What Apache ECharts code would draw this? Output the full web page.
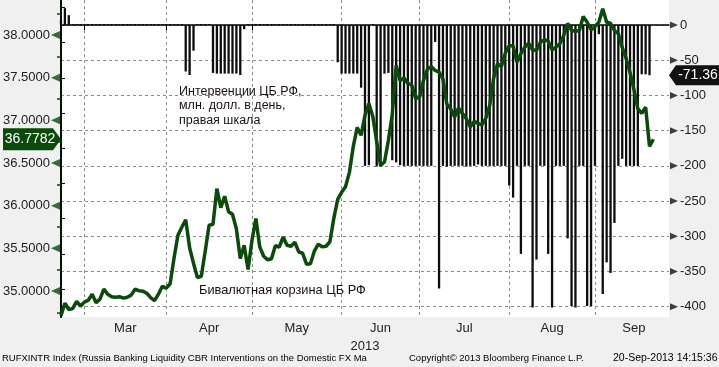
<!DOCTYPE html>
<html><head><meta charset="utf-8">
<script src="https://cdn.jsdelivr.net/npm/echarts@6/dist/echarts.min.js"></script>
<style>html,body{margin:0;padding:0;background:#f0f0f0;}#c{width:719px;height:367px;}</style>
</head><body><div id="c"></div>
<script>
// Business days (MM-DD, 2013)
const categories = [
'02-21','02-22','02-25','02-26','02-27','02-28',
'03-01','03-04','03-05','03-06','03-07','03-08','03-11','03-12','03-13','03-14','03-15','03-18','03-19','03-20','03-21','03-22','03-25','03-26','03-27','03-28','03-29',
'04-01','04-02','04-03','04-04','04-05','04-08','04-09','04-10','04-11','04-12','04-15','04-16','04-17','04-18','04-19','04-22','04-23','04-24','04-25','04-26','04-29','04-30',
'05-01','05-02','05-03','05-06','05-07','05-08','05-09','05-10','05-13','05-14','05-15','05-16','05-17','05-20','05-21','05-22','05-23','05-24','05-27','05-28','05-29','05-30','05-31',
'06-03','06-04','06-05','06-06','06-07','06-10','06-11','06-12','06-13','06-14','06-17','06-18','06-19','06-20','06-21','06-24','06-25','06-26','06-27','06-28',
'07-01','07-02','07-03','07-04','07-05','07-08','07-09','07-10','07-11','07-12','07-15','07-16','07-17','07-18','07-19','07-22','07-23','07-24','07-25','07-26','07-29','07-30','07-31',
'08-01','08-02','08-05','08-06','08-07','08-08','08-09','08-12','08-13','08-14','08-15','08-16','08-19','08-20','08-21','08-22','08-23','08-26','08-27','08-28','08-29','08-30',
'09-02','09-03','09-04','09-05','09-06','09-09','09-10','09-11','09-12','09-13','09-16','09-17','09-18','09-19','09-20','09-23','09-24','09-25','09-26','09-27'
];

// Bi-currency basket (left axis)
const basket = [
34.711,34.857,34.783,34.793,34.880,34.822,34.869,34.892,34.962,34.863,
34.904,35.021,34.962,34.933,34.927,34.933,34.916,34.927,34.951,35.021,
35.003,34.998,34.974,34.921,34.886,34.962,35.056,35.033,35.085,35.384,
35.653,35.747,35.834,35.507,35.325,35.158,35.173,35.466,35.770,35.782,
36.200,35.977,36.110,35.928,35.899,35.729,35.380,35.536,35.252,35.595,
35.849,35.516,35.407,35.366,35.378,35.530,35.513,35.633,35.536,35.524,
35.571,35.458,35.442,35.314,35.319,35.466,35.548,35.519,35.524,35.577,
35.852,36.074,36.156,36.221,36.390,36.695,36.917,36.824,37.058,37.198,
37.046,36.753,36.472,36.511,36.765,37.069,37.643,37.467,37.497,37.432,
37.415,37.253,37.272,37.467,37.596,37.631,37.584,37.565,37.485,37.192,
37.134,37.038,37.146,37.078,37.019,36.923,36.987,36.964,36.946,37.023,
37.175,37.491,37.663,37.631,37.789,37.877,37.871,37.682,37.780,37.857,
37.904,37.827,37.819,37.916,37.944,37.927,37.827,37.857,37.897,37.994,
38.135,38.053,38.044,38.053,38.217,38.150,38.061,38.099,38.150,38.307,
38.150,38.138,38.053,38.014,37.854,37.725,37.561,37.362,37.136,37.081,
37.155,36.695,36.7782
];

// CBR interventions, mln USD per day (right axis)
const interventions = [
7,24,14,0,0,0,0,0,0,0,
0,0,0,0,0,0,0,0,0,0,
0,0,0,0,0,0,0,0,0,0,
0,0,-66,-71,-36.5,0,0,0,0,-68,
-69,-69,-69,-69,-69,-69,-71,-6,0,0,
0,0,0,0,0,0,0,0,0,0,
0,0,0,0,0,0,0,0,0,0,
0,-53,-69,-69,-69,-69,-69,-89,-200,-199,
0,-201,-201,-69,-68,-192,-195,-199,-200,-200,
-200,-200,-200,-200,-200,-200,-24,-374,-200,-201,
-200,-200,-200,-200,-201,-200,-200,-198,-200,-200,
-200,-200,-200,-200,-200,-228,-245,-200,-325,-200,
-200,-401,-333,-200,-200,-325,-401,-200,-200,-200,
-303,-399,-401,-200,-200,-399,-399,-200,-13,-382,
-337,-352,-281,-200,-190,-200,-200,-200,-200,-70,
-70,-71.36
];

const leftTicks = [35, 35.5, 36, 36.5, 37, 37.5, 38];
const rightTicks = [0, -50, -100, -150, -200, -250, -300, -350, -400];
const monthNames = {'03':'Mar','04':'Apr','05':'May','06':'Jun','07':'Jul','08':'Aug','09':'Sep'};
const yearLabel = '2013';

const FONT = 'Liberation Sans';
const GREEN = '#0a4a0a';
const last = categories.length - 1;

// month boundaries and mid points
const monthStarts = [];
categories.forEach((c, i) => { if (i > 0 && c.slice(0,2) !== categories[i-1].slice(0,2)) monthStarts.push(i); });
const monthMids = [], midName = {};
monthStarts.forEach((s, k) => {
  const e = k + 1 < monthStarts.length ? monthStarts[k+1] : categories.length;
  const m = (s + e) / 2; monthMids.push(m); midName[m] = monthNames[categories[s].slice(0,2)];
});
const isMonthStart = (i) => monthStarts.indexOf(i) >= 0;
const yearPos = last / 2;

const triRight = 'path://M0,0L10,5L0,10Z';
const triLeft = 'path://M10,0L0,5L10,10Z';
const txt = (size, color) => ({fontSize: size, fontWeight: 'normal', color: color, fontFamily: FONT});
const chart = echarts.init(document.getElementById('c'), null, {renderer: 'canvas'});
chart.setOption({
  animation: false,
  backgroundColor: '#f0f0f0',
  textStyle: {fontFamily: FONT},
  grid: {left: 58, right: 50, top: 0, bottom: 50, show: true, backgroundColor: '#ffffff', borderWidth: 0},
  title: [
    {text: 'Интервенции ЦБ РФ,\nмлн. долл. в день,\nправая шкала', left: 179, top: 84, padding: 0,
     textStyle: Object.assign(txt(12.5, '#1a1010'), {lineHeight: 14.5})},
    {text: 'Бивалютная корзина ЦБ РФ', left: 199, top: 284, padding: 0, textStyle: txt(12.8, '#1a1010')},
    {text: 'RUFXINTR Index (Russia Banking Liquidity CBR Interventions on the Domestic FX Ma', left: 2, top: 353, padding: 0, textStyle: txt(9.5, '#000')},
    {text: 'Copyright© 2013 Bloomberg Finance L.P.', left: 409, top: 353, padding: 0, textStyle: txt(9.5, '#000')},
    {text: '20-Sep-2013 14:15:36', left: 613, top: 353, padding: 0, textStyle: txt(10.5, '#000')}
  ],
  xAxis: [
    {type: 'category', data: categories, boundaryGap: false,
     axisLine: {show: true, lineStyle: {color: '#000', width: 1.5}},
     axisTick: {show: true, interval: (i) => isMonthStart(i), length: 5, lineStyle: {color: '#000'}},
     axisLabel: {show: false},
     splitLine: {show: true, interval: (i) => isMonthStart(i), lineStyle: {color: '#8c8c8c', type: [3, 3], width: 1}}},
    {type: 'value', min: 0, max: last, position: 'bottom',
     axisLine: {show: false}, axisTick: {show: false}, splitLine: {show: false},
     axisLabel: {show: true, customValues: monthMids, formatter: (v) => midName[v] || '', color: '#222', fontSize: 13, margin: 5, fontFamily: FONT}},
    {type: 'value', min: 0, max: last, position: 'bottom', offset: 18,
     axisLine: {show: false}, axisTick: {show: false}, splitLine: {show: false},
     axisLabel: {show: true, customValues: [yearPos], formatter: () => yearLabel, color: '#222', fontSize: 13, margin: 5, fontFamily: FONT}}
  ],
  yAxis: [
    {type: 'value', position: 'left', min: 34.695, max: 38.41, splitNumber: 7,
     axisLine: {show: true, lineStyle: {color: GREEN, width: 2}},
     axisTick: {show: false},
     minorTick: {show: true, splitNumber: 2, length: 4, lineStyle: {color: GREEN, width: 1.5}},
     splitLine: {show: false}, minorSplitLine: {show: false},
     axisLabel: {formatter: (v) => leftTicks.indexOf(v) >= 0 ? v.toFixed(4) : '', color: '#1c1c1c', fontSize: 13, margin: 11, fontFamily: FONT}},
    {type: 'value', position: 'right', min: -414.6, max: 35.5, splitNumber: 9,
     axisLine: {show: true, lineStyle: {color: '#000', width: 1.5}},
     axisTick: {show: false},
     minorTick: {show: true, splitNumber: 2, length: 4, lineStyle: {color: '#000', width: 1}},
     splitLine: {show: true, showMinLine: false, showMaxLine: false, lineStyle: {color: '#8c8c8c', type: [3, 3], width: 1}},
     axisLabel: {formatter: (v) => rightTicks.indexOf(v) >= 0 ? String(v) : '', color: '#1c1c1c', fontSize: 13, margin: 11, fontFamily: FONT}}
  ],
  series: [
    {type: 'bar', name: 'interventions', xAxisIndex: 0, yAxisIndex: 1, data: interventions,
     barWidth: 2.3, barMinHeight: 1, itemStyle: {color: '#0d0d0d'}, z: 2, silent: true,
     markPoint: {symbol: 'path://M8,0L60,0L60,20L8,20L0,10Z', symbolSize: [52, 20], symbolOffset: [26, 0], silent: true,
       itemStyle: {color: '#111'},
       label: {show: true, color: '#fff', fontSize: 14, fontFamily: FONT, offset: [3, 0], formatter: () => String(interventions[interventions.length-1])},
       data: [{coord: [categories[last], interventions[interventions.length-1]]}]}},
    {type: 'line', name: 'basket', xAxisIndex: 0, yAxisIndex: 0, data: basket,
     showSymbol: false, symbol: 'none', lineStyle: {color: GREEN, width: 3.5}, z: 4, silent: true,
     markPoint: {symbol: 'path://M0,0L50,0L58,11L50,22L0,22Z', symbolSize: [58, 22], symbolOffset: [-29, 0], silent: true,
       itemStyle: {color: GREEN},
       label: {show: true, color: '#fff', fontSize: 14, fontFamily: FONT, offset: [-2, 0], formatter: () => basket[basket.length-1].toFixed(4)},
       data: [{coord: [categories[0], basket[basket.length-1]]}]}},
    {type: 'scatter', xAxisIndex: 0, yAxisIndex: 0, data: leftTicks.map(v => [categories[0], v]),
     symbol: triLeft, symbolSize: [9, 8], symbolOffset: [-5.5, 0], clip: false, silent: true, itemStyle: {color: GREEN}, z: 5},
    {type: 'scatter', xAxisIndex: 0, yAxisIndex: 1, data: rightTicks.map(v => [categories[last], v]),
     symbol: triRight, symbolSize: [8, 7], symbolOffset: [5, 0], clip: false, silent: true, itemStyle: {color: '#111'}, z: 5}
  ]
});
</script></body></html>
